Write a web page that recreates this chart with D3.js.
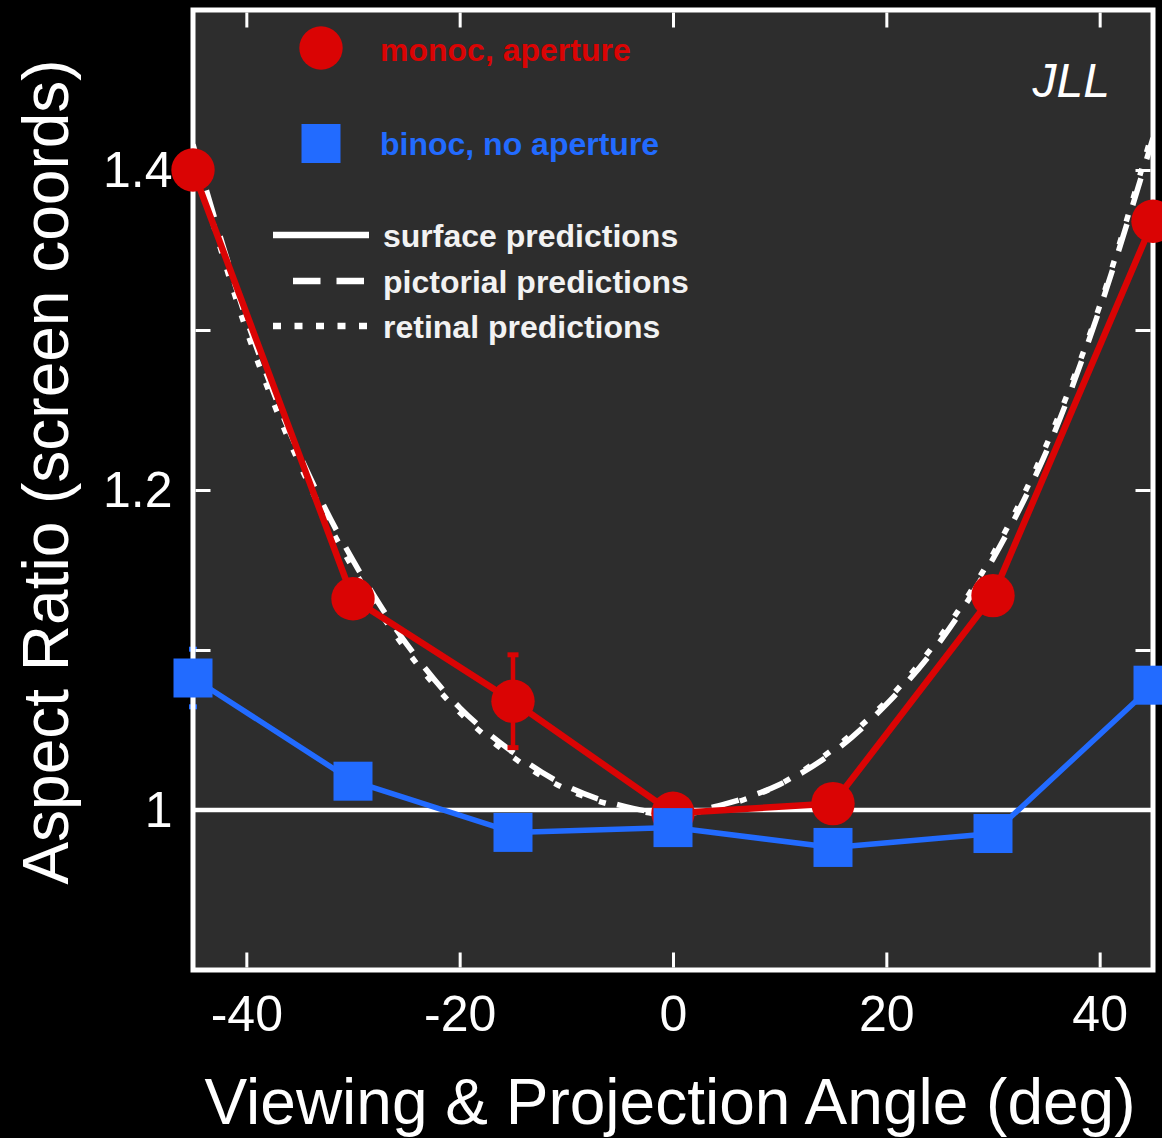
<!DOCTYPE html>
<html>
<head>
<meta charset="utf-8">
<script src="https://cdn.jsdelivr.net/npm/d3@7"></script>
<style>
  html, body { margin: 0; padding: 0; background: #000; }
  svg { display: block; }
  text { font-family: "Liberation Sans", Arial, Helvetica, sans-serif; }
</style>
</head>
<body>
<svg id="chart" width="1162" height="1138"></svg>
<script>
// Measured aspect ratios per viewing/projection angle
const angles = [-45, -30, -15, 0, 15, 30, 45];
const monocAperture = [1.400, 1.132, 1.068, 0.998, 1.004, 1.134, 1.368];
const monocErr      = [0.010, 0.010, 0.029, 0.008, 0.010, 0.010, 0.010];
const binocNoAperture = [1.0825, 1.018, 0.986, 0.989, 0.9766, 0.9853, 1.078];
const binocErr        = [0.018, 0.008, 0.008, 0.006, 0.008, 0.008, 0.008];

// Model predictions
const predAngles    = [-45, -40, -35, -30, -25, -20, -15, -10, -5, 0, 5, 10, 15, 20, 25, 30, 35, 40, 45];
const pictorialPred = [1.416, 1.307, 1.222, 1.156, 1.104, 1.064, 1.036, 1.015, 1.003, 0.998, 1.004, 1.016, 1.036, 1.066, 1.105, 1.157, 1.224, 1.313, 1.420];
const retinalPred   = [1.410, 1.300, 1.216, 1.151, 1.100, 1.061, 1.033, 1.013, 1.002, 0.997, 1.003, 1.016, 1.038, 1.068, 1.108, 1.160, 1.228, 1.315, 1.425];
const surfaceAngles = [-45, 45];
const surfacePred   = [1.0, 1.0];

// Axis ticks
const xTicks = [-40, -20, 0, 20, 40];
const yTicks = [1.0, 1.1, 1.2, 1.3, 1.4];
const yLabelled = [1.0, 1.2, 1.4];

// Legend entries
const seriesLabels = ["monoc, aperture", "binoc, no aperture"];
const predLabels = ["surface predictions", "pictorial predictions", "retinal predictions"];

const RED = "#da0404";
const BLUE = "#226bff";
const PANEL = "#2d2d2d";

const svg = d3.select("#chart");
const W = 1162, H = 1138;
svg.append("rect").attr("width", W).attr("height", H).attr("fill", "#000");

const x = d3.scaleLinear().domain([-45, 45]).range([193, 1153]);
const y = d3.scaleLinear().domain([0.9, 1.5]).range([970, 10]);
const [x0, x1] = x.range();
const [yb, yt] = y.range();

// panel
svg.append("rect")
  .attr("x", x0).attr("y", yt).attr("width", x1 - x0).attr("height", yb - yt)
  .attr("fill", PANEL);

svg.append("defs").append("clipPath").attr("id", "panel-clip")
  .append("rect").attr("x", x0).attr("y", yt).attr("width", x1 - x0).attr("height", yb - yt);

const plot = svg.append("g").attr("clip-path", "url(#panel-clip)");

// prediction curves
const lineOf = (xs, ys, curve) => d3.line()
  .x((d, i) => x(xs[i])).y(d => y(d)).curve(curve)(ys);

plot.append("path")
  .attr("d", lineOf(surfaceAngles, surfacePred, d3.curveLinear))
  .attr("fill", "none").attr("stroke", "#fff").attr("stroke-width", 4.5);

plot.append("path")
  .attr("d", lineOf(predAngles, retinalPred, d3.curveCatmullRom))
  .attr("fill", "none").attr("stroke", "#fff").attr("stroke-width", 5.5)
  .attr("stroke-dasharray", "7,17").attr("stroke-linecap", "butt");

plot.append("path")
  .attr("d", lineOf(predAngles, pictorialPred, d3.curveCatmullRom))
  .attr("fill", "none").attr("stroke", "#fff").attr("stroke-width", 5.5)
  .attr("stroke-dasharray", "28,20").attr("stroke-linecap", "butt");

// data lines
svg.append("path")
  .attr("d", lineOf(angles, monocAperture, d3.curveLinear))
  .attr("fill", "none").attr("stroke", RED).attr("stroke-width", 6.5)
  .attr("stroke-linejoin", "round");

// error bars
function errorBars(vals, errs, color, capHalf) {
  const g = svg.append("g").attr("stroke", color).attr("stroke-width", 4.5);
  vals.forEach((v, i) => {
    const cx = x(angles[i]);
    g.append("line").attr("x1", cx).attr("x2", cx)
      .attr("y1", y(v - errs[i])).attr("y2", y(v + errs[i]));
    [v - errs[i], v + errs[i]].forEach(e => {
      g.append("line").attr("x1", cx - capHalf).attr("x2", cx + capHalf)
        .attr("y1", y(e)).attr("y2", y(e)).attr("stroke-width", 5);
    });
  });
}
errorBars(monocAperture, monocErr, RED, 5.5);
errorBars(binocNoAperture, binocErr, BLUE, 4);

// frame
svg.append("rect")
  .attr("x", x0).attr("y", yt).attr("width", x1 - x0).attr("height", yb - yt)
  .attr("fill", "none").attr("stroke", "#fff").attr("stroke-width", 5);

// axes with inward ticks
const fmtX = d => (d < 0 ? "-" : "") + Math.abs(d);
const fmtY = d => yLabelled.some(v => Math.abs(v - d) < 1e-9) ? d3.format("~g")(d) : "";

function styleAxis(g, showLabels) {
  g.select(".domain").remove();
  g.selectAll(".tick line").attr("stroke", "#fff").attr("stroke-width", 3);
  g.selectAll(".tick text").attr("fill", "#fff")
    .style("font-size", "50px").style("font-family", "'Liberation Sans', Arial, sans-serif");
  if (!showLabels) g.selectAll(".tick text").remove();
}

svg.append("g").attr("transform", `translate(0,${yb - 2.5})`)
  .call(d3.axisBottom(x).tickValues(xTicks).tickSize(-15).tickPadding(28).tickFormat(fmtX))
  .call(g => styleAxis(g, true));
svg.append("g").attr("transform", `translate(0,${yt + 2.5})`)
  .call(d3.axisTop(x).tickValues(xTicks).tickSize(-15).tickFormat(""))
  .call(g => styleAxis(g, false));
svg.append("g").attr("transform", `translate(${x0 + 2.5},0)`)
  .call(d3.axisLeft(y).tickValues(yTicks).tickSize(-15).tickPadding(23).tickFormat(fmtY))
  .call(g => styleAxis(g, true));
svg.append("g").attr("transform", `translate(${x1 - 2.5},0)`)
  .call(d3.axisRight(y).tickValues(yTicks).tickSize(-15).tickFormat(""))
  .call(g => styleAxis(g, false));

// markers
const circR = 21.7;
const sq = 39;
svg.append("g").selectAll("circle").data(monocAperture).join("circle")
  .attr("cx", (d, i) => x(angles[i])).attr("cy", d => y(d))
  .attr("r", circR).attr("fill", RED);

svg.append("path")
  .attr("d", lineOf(angles, binocNoAperture, d3.curveLinear))
  .attr("fill", "none").attr("stroke", BLUE).attr("stroke-width", 5.5)
  .attr("stroke-linejoin", "round");

svg.append("g").selectAll("rect").data(binocNoAperture).join("rect")
  .attr("x", (d, i) => x(angles[i]) - sq / 2).attr("y", d => y(d) - sq / 2)
  .attr("width", sq).attr("height", sq).attr("fill", BLUE);

// axis titles
svg.append("text")
  .attr("x", 670).attr("y", 1124).attr("text-anchor", "middle")
  .attr("fill", "#fff").style("font-size", "64px")
  .text("Viewing & Projection Angle (deg)");

svg.append("text")
  .attr("transform", "translate(68,472) rotate(-90)").attr("text-anchor", "middle")
  .attr("fill", "#fff").style("font-size", "64px")
  .text("Aspect Ratio (screen coords)");

// observer tag
svg.append("text")
  .attr("x", 1110).attr("y", 97).attr("text-anchor", "end")
  .attr("fill", "#fff").style("font-size", "48px").style("font-style", "italic")
  .text("JLL");

// legend: data series
const leg = svg.append("g");
leg.append("circle").attr("cx", 321).attr("cy", 48).attr("r", circR).attr("fill", RED);
leg.append("text").attr("x", 380).attr("y", 61).attr("fill", RED)
  .style("font-size", "32px").style("font-weight", "bold").text(seriesLabels[0]);
leg.append("rect").attr("x", 321 - sq / 2).attr("y", 143.5 - sq / 2)
  .attr("width", sq).attr("height", sq).attr("fill", BLUE);
leg.append("text").attr("x", 380).attr("y", 155).attr("fill", BLUE)
  .style("font-size", "32px").style("font-weight", "bold").text(seriesLabels[1]);

// legend: predictions
const predStyles = [
  { x1: 273, x2: 369, dash: null },
  { x1: 293, x2: 369, dash: "27.5,16" },
  { x1: 273, x2: 369, dash: "8,13.5" }
];
const predY = [235, 281, 326];
predLabels.forEach((lab, i) => {
  const s = predStyles[i];
  const ln = leg.append("line").attr("x1", s.x1).attr("x2", s.x2)
    .attr("y1", predY[i]).attr("y2", predY[i])
    .attr("stroke", "#fff").attr("stroke-width", 6.5);
  if (s.dash) ln.attr("stroke-dasharray", s.dash);
  leg.append("text").attr("x", 383).attr("y", predY[i] + 12).attr("fill", "#f2f2f2")
    .style("font-size", "32px").style("font-weight", "bold").text(lab);
});
</script>
</body>
</html>
